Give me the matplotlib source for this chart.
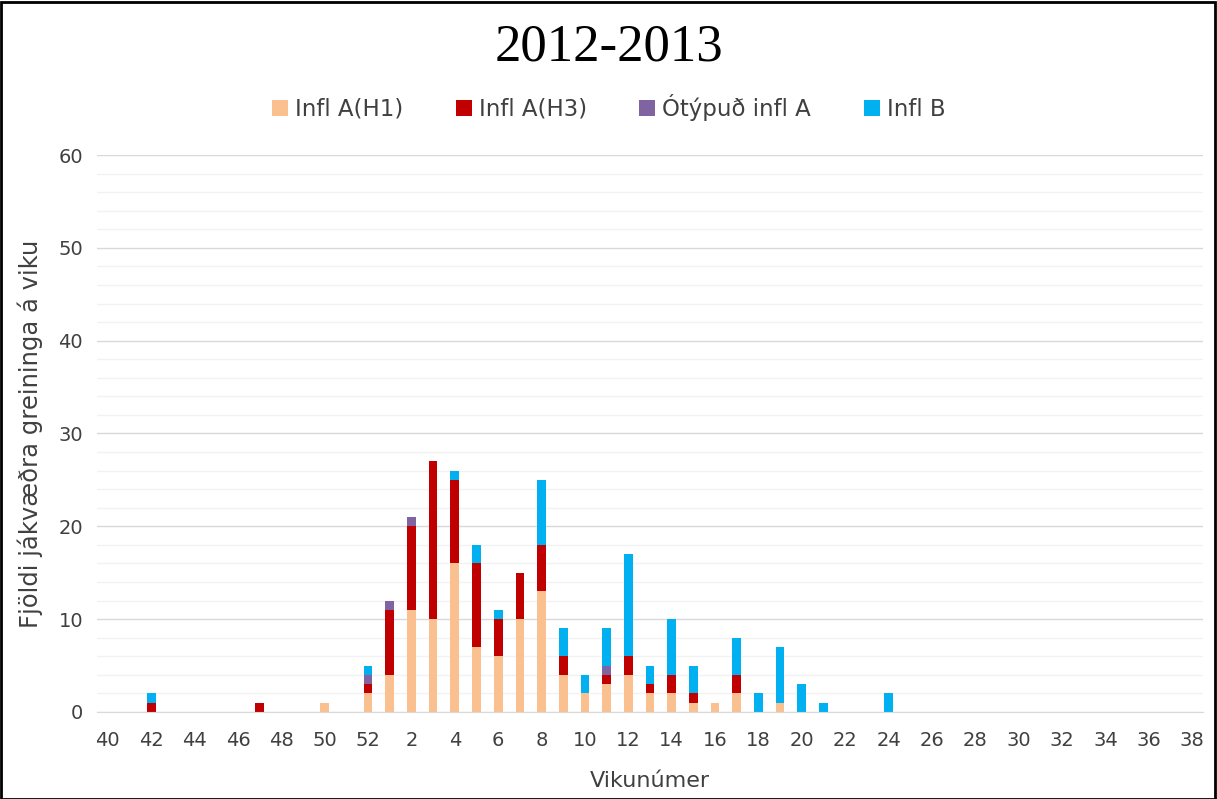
import matplotlib
matplotlib.use("Agg")
import matplotlib.pyplot as plt
from matplotlib.patches import Rectangle
from matplotlib.ticker import MultipleLocator
import numpy as np

weeks = list(range(40, 53)) + list(range(1, 39))

def series(d):
    return [d.get(w, 0) for w in weeks]

h1 = series({50: 1, 52: 2, 1: 4, 2: 11, 3: 10, 4: 16, 5: 7, 6: 6, 7: 10, 8: 13, 9: 4,
             10: 2, 11: 3, 12: 4, 13: 2, 14: 2, 15: 1, 16: 1, 17: 2, 19: 1})
h3 = series({42: 1, 47: 1, 52: 1, 1: 7, 2: 9, 3: 17, 4: 9, 5: 9, 6: 4, 7: 5, 8: 5, 9: 2,
             11: 1, 12: 2, 13: 1, 14: 2, 15: 1, 17: 2})
untyped = series({52: 1, 1: 1, 2: 1, 11: 1})
infl_b = series({42: 1, 52: 1, 4: 1, 5: 2, 6: 1, 8: 7, 9: 3, 10: 2, 11: 4, 12: 11, 13: 2,
                 14: 6, 15: 3, 17: 4, 18: 2, 19: 6, 20: 3, 21: 1, 24: 2})

labels = ["Infl A(H1)", "Infl A(H3)", "Ótýpuð infl A", "Infl B"]
colors = ["#FAC090", "#C00000", "#8064A2", "#00B0F0"]
title = "2012-2013"
ylabel = "Fjöldi jákvæðra greininga á viku"
xlabel = "Vikunúmer"

fig = plt.figure(figsize=(12.17, 7.99), dpi=100)
ax = fig.add_axes([0.0797, 0.109, 0.9088, 0.697])

x = np.arange(len(weeks))
bottom = np.zeros(len(weeks))
for vals, lab, col in zip([h1, h3, untyped, infl_b], labels, colors):
    v = np.array(vals, dtype=float)
    ax.bar(x, v, width=0.4, bottom=bottom, color=col, label=lab, zorder=3)
    bottom += v

ax.set_xlim(-0.5, len(weeks) - 0.5)
ax.set_ylim(0, 60)
ax.yaxis.set_major_locator(MultipleLocator(10))
ax.yaxis.set_minor_locator(MultipleLocator(2))
ax.grid(which="major", axis="y", color="#D9D9D9", linewidth=1.0, zorder=0)
ax.grid(which="minor", axis="y", color="#F2F2F2", linewidth=1.0, zorder=0)
ax.set_xticks(x[::2])
ax.set_xticklabels([str(w) for w in weeks[::2]])
for s in ["top", "right", "left"]:
    ax.spines[s].set_visible(False)
ax.spines["bottom"].set_color("#D9D9D9")
ax.spines["bottom"].set_zorder(4)
ax.tick_params(axis="both", which="both", length=0, labelsize=14, colors="#404040")
ax.tick_params(axis="x", pad=14)
ax.tick_params(axis="y", pad=10)
ax.set_xlabel(xlabel, fontsize=16, color="#404040", labelpad=15)
ax.set_ylabel(ylabel, fontsize=17.5, color="#404040", labelpad=11)

fig.text(0.5, 0.94, title, ha="center", va="center", fontsize=38,
         family="Liberation Serif", color="#000000")

handles, labs = ax.get_legend_handles_labels()
fig.legend(handles, labs, loc="center", bbox_to_anchor=(0.5, 0.866), ncol=4,
           frameon=False, fontsize=16.5, handlelength=0.7, handleheight=0.7,
           handletextpad=0.3, columnspacing=2.3, labelcolor="#404040")

fig.add_artist(Rectangle((0.001, 0.0), 0.997, 0.997, transform=fig.transFigure,
                         fill=False, edgecolor="black", linewidth=2))

fig.savefig("out.png", dpi=100)
